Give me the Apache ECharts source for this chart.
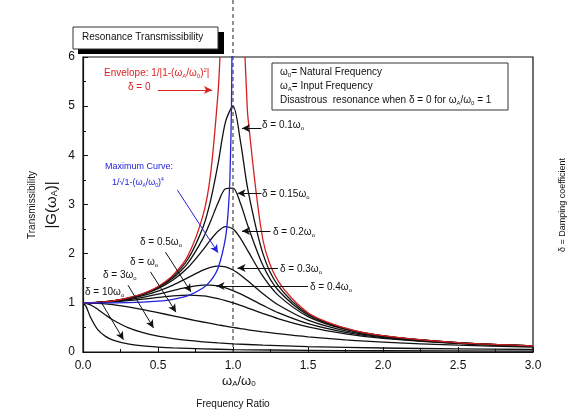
<!DOCTYPE html>
<html>
<head>
<meta charset="utf-8" />
<script src="https://cdn.jsdelivr.net/npm/echarts@6/dist/echarts.min.js"></script>
<style>body{margin:0;background:#fff}</style>
</head>
<body>
<div id="chart" style="width:576px;height:417px;"></div>
<script>
// frequency ratio samples shared by the damped curves
var xsA = [0,0.1,0.2,0.3,0.4,0.5,0.6,0.7,0.8,0.85,0.9,0.95,1,1.05,1.1,1.2,1.3,1.5,1.75,2,2.5,3];
var d01 = [1,1.010,1.041,1.097,1.185,1.322,1.536,1.891,2.538,3.073,3.821,4.682,5.0,4.279,3.288,1.995,1.356,0.778,0.478,0.330,0.190,0.125];
var d015 = [1,1.010,1.040,1.094,1.179,1.307,1.504,1.813,2.311,2.654,3.029,3.320,3.333,3.019,2.557,1.759,1.262,0.753,0.470,0.327,0.189,0.124];
var d02 = [1,1.009,1.038,1.090,1.170,1.288,1.463,1.719,2.076,2.279,2.457,2.549,2.5,2.313,2.051,1.536,1.157,0.721,0.459,0.322,0.187,0.124];
var d03 = [1,1.008,1.034,1.078,1.145,1.238,1.362,1.514,1.667,1.722,1.747,1.729,1.667,1.567,1.444,1.185,0.960,0.649,0.432,0.310,0.183,0.122];
var d04 = [1,1.007,1.028,1.063,1.113,1.177,1.25,1.320,1.362,1.362,1.343,1.305,1.25,1.182,1.105,0.947,0.801,0.577,0.401,0.294,0.178,0.120];
var d05 = [1,1.005,1.020,1.044,1.075,1.109,1.140,1.155,1.140,1.118,1.087,1.047,1,0.948,0.893,0.782,0.680,0.512,0.370,0.277,0.172,0.117];
var d1 = [1,0.990,0.962,0.917,0.862,0.8,0.735,0.671,0.610,0.581,0.552,0.526,0.5,0.476,0.452,0.410,0.372,0.308,0.246,0.2,0.138,0.1];
var xs3 = [0,0.05,0.1,0.15,0.2,0.3,0.4,0.5,0.6,0.7,0.8,0.9,1,1.2,1.5,2,2.5,3];
var d3 = [1,0.960,0.864,0.753,0.651,0.496,0.393,0.323,0.274,0.236,0.208,0.185,0.167,0.139,0.110,0.081,0.063,0.051];
var xs10 = [0,0.02,0.05,0.1,0.15,0.2,0.3,0.4,0.5,0.6,0.8,1,1.5,2,3];
var d10 = [1,0.929,0.708,0.448,0.317,0.243,0.165,0.124,0.100,0.083,0.063,0.05,0.033,0.025,0.017];
var xsEnvL = [0,0.1,0.2,0.3,0.4,0.5,0.6,0.7,0.8,0.85,0.9,0.913];
var envL = [1,1.010,1.042,1.099,1.190,1.333,1.563,1.961,2.778,3.604,5.263,6.0];
var xsEnvR = [1.08,1.09,1.1,1.2,1.3,1.5,1.75,2,2.5,3];
var envR = [6,5.316,4.762,2.273,1.449,0.8,0.485,0.333,0.190,0.125];
var xsMax = [0,0.2,0.4,0.5,0.6,0.7,0.8,0.85,0.9,0.95,0.97,0.98,0.99,0.995];
var maxC = [1,1.001,1.013,1.033,1.072,1.147,1.301,1.446,1.705,2.321,2.953,3.59,5.04,7.09];

function pairs(xs, ys) { return xs.map(function (x, i) { return [x, ys[i]]; }); }
function curve(xs, ys, color) {
  return { type: 'line', data: pairs(xs, ys), smooth: 0.3, symbol: 'none',
    lineStyle: { color: color, width: 1.3 }, z: color === '#111' ? 2 : 3 };
}

var F = 'Liberation Sans, Arial, sans-serif';
function richOf(color, size) {
  size = size || 10;
  return {
    n: { fontSize: size, fontFamily: F, fill: color },
    s: { fontSize: Math.round(size * 0.6), fontFamily: F, fill: color, padding: [6, 0, 0, 0] },
    p: { fontSize: Math.round(size * 0.6), fontFamily: F, fill: color, padding: [0, 0, 6, 0] }
  };
}
function label(x, y, text, color, size, rot) {
  return { type: 'text', x: x, y: y, z: 12, rotation: rot || 0,
    style: { text: text, rich: richOf(color || '#111', size), fill: color || '#111', font: (size || 10) + 'px ' + F,
      align: rot ? 'center' : 'left', verticalAlign: rot ? 'middle' : 'top' } };
}
// arrows in axis units: [fromX, fromY, toX, toY, color]
var arrows = [
  [1.19, 4.55, 1.06, 4.55, '#111'],
  [1.19, 3.23, 1.03, 3.23, '#111'],
  [1.25, 2.46, 1.06, 2.46, '#111'],
  [1.30, 1.71, 1.03, 1.71, '#111'],
  [1.50, 1.34, 0.89, 1.34, '#111'],
  [0.55, 2.03, 0.72, 1.22, '#111'],
  [0.45, 1.63, 0.62, 0.81, '#111'],
  [0.30, 1.36, 0.47, 0.49, '#111'],
  [0.12, 1.02, 0.27, 0.25, '#111'],
  [0.63, 3.29, 0.90, 2.02, '#2222dd'],
  [0.50, 5.33, 0.86, 5.33, '#dd2222']
];

var myChart = echarts.init(document.getElementById('chart'));
var series = [
  curve(xsA, d01, '#111'), curve(xsA, d015, '#111'), curve(xsA, d02, '#111'),
  curve(xsA, d03, '#111'), curve(xsA, d04, '#111'), curve(xsA, d05, '#111'),
  curve(xsA, d1, '#111'), curve(xs3, d3, '#111'), curve(xs10, d10, '#111'),
  curve(xsEnvL, envL, '#d42020'), curve(xsEnvR, envR, '#d42020'),
  curve(xsMax, maxC, '#2222dd'),
  { type: 'line', data: [], silent: true,
    markLine: { silent: true, animation: false, symbolSize: [6, 8],
      label: { show: false },
      data: arrows.map(function (a) {
        return [{ coord: [a[0], a[1]], symbol: 'none', lineStyle: { color: a[4], width: 1, type: 'solid' } },
                { coord: [a[2], a[3]], symbol: 'arrow' }];
      }) } }
];
var axisCommon = {
  axisLine: { lineStyle: { color: '#111', width: 1.2 } },
  axisTick: { inside: true, length: 5, lineStyle: { color: '#111' } },
  minorTick: { show: true, splitNumber: 2, length: 3, lineStyle: { color: '#111' } },
  splitLine: { show: false },
  axisLabel: { color: '#111', fontSize: 12, fontFamily: F }
};
var option = {
  animation: false,
  grid: { left: 83, right: 43, top: 57, bottom: 65, show: true, borderColor: '#111', borderWidth: 1.2 },
  xAxis: Object.assign({ type: 'value', min: 0, max: 3, interval: 0.5 }, axisCommon,
    { axisLabel: Object.assign({}, axisCommon.axisLabel, { formatter: function (v) { return v.toFixed(1); } }) }),
  yAxis: Object.assign({ type: 'value', min: 0, max: 6, interval: 1 }, axisCommon),
  series: series
};
myChart.setOption(option);

var x1 = myChart.convertToPixel({ xAxisIndex: 0 }, 1);
myChart.setOption({ graphic: [
  { type: 'line', shape: { x1: x1, y1: 0, x2: x1, y2: 352 }, style: { stroke: '#555', lineWidth: 1.3, lineDash: [4, 3] }, z: 1 },
  { type: 'rect', shape: { x: 78, y: 32, width: 146, height: 22 }, style: { fill: '#000' }, z: 10 },
  { type: 'rect', shape: { x: 73, y: 27, width: 145, height: 22 }, style: { fill: '#fff', stroke: '#333', lineWidth: 1 }, z: 11 },
  { type: 'text', x: 82, y: 32, style: { text: 'Resonance Transmissibility', font: '10px ' + F, fill: '#111' }, z: 12 },
  { type: 'rect', shape: { x: 272, y: 63, width: 236, height: 47 }, style: { fill: '#fff', stroke: '#333', lineWidth: 1 }, z: 10 },
  label(280, 66, '{n|ω}{s|0}{n|= Natural Frequency}'),
  label(280, 80, '{n|ω}{s|A}{n|= Input Frequency}'),
  label(280, 94, '{n|Disastrous  resonance when δ = 0 for ω}{s|A}{n|/ω}{s|0}{n| = 1}'),
  label(104, 67, '{n|Envelope: 1/|1-(ω}{s|A}{n|/ω}{s|0}{n|)}{p|2}{n||}', '#dd2222'),
  label(128, 82, '{n|δ = 0}', '#dd2222'),
  label(105, 162, '{n|Maximum Curve:}', '#2222dd', 9),
  label(112, 177, '{n|1/√1-(ω}{s|A}{n|/ω}{s|0}{n|)}{p|4}', '#2222dd', 9),
  label(262, 119, '{n|δ = 0.1ω}{s|o}'),
  label(262, 188, '{n|δ = 0.15ω}{s|o}'),
  label(273, 226, '{n|δ = 0.2ω}{s|o}'),
  label(280, 263, '{n|δ = 0.3ω}{s|o}'),
  label(310, 281, '{n|δ = 0.4ω}{s|o}'),
  label(140, 236, '{n|δ = 0.5ω}{s|o}'),
  label(130, 256, '{n|δ = ω}{s|o}'),
  label(103, 269, '{n|δ = 3ω}{s|o}'),
  label(85, 286, '{n|δ = 10ω}{s|o}'),
  label(222, 374, '{n|ω}{s|A}{n|/ω}{s|0}', '#111', 13),
  { type: 'text', x: 233, y: 399, style: { text: 'Frequency Ratio', font: '10px ' + F, fill: '#111', align: 'center' } },
  { type: 'text', x: 32, y: 205, rotation: Math.PI / 2, style: { text: 'Transmissibility', font: '10px ' + F, fill: '#111', align: 'center', verticalAlign: 'middle' } },
  label(52, 205, '{n||G(ω}{s|A}{n|)|}', '#111', 15, Math.PI / 2),
  { type: 'text', x: 563, y: 205, rotation: Math.PI / 2, style: { text: 'δ = Damping coefficient', font: '9px ' + F, fill: '#111', align: 'center', verticalAlign: 'middle' } }
] });
</script>
</body>
</html>
